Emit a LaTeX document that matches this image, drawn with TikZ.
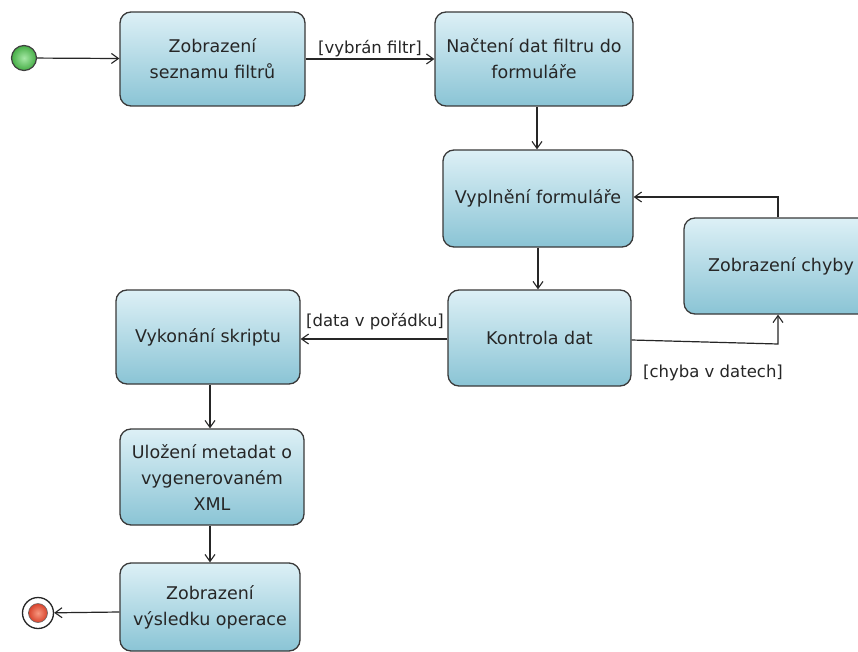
\documentclass[tikz,border=0pt]{standalone}
\usepackage{fontspec}
\setmainfont{DejaVu Sans}
\usetikzlibrary{arrows.meta}
\definecolor{boxtop}{HTML}{DDF0F6}
\definecolor{boxbot}{HTML}{8AC4D5}
\definecolor{boxline}{HTML}{3A3A3A}
\definecolor{startin}{HTML}{A6E8A6}
\definecolor{startout}{HTML}{45AD45}
\definecolor{endin}{HTML}{F79880}
\definecolor{endout}{HTML}{D8432C}
\tikzset{
  action/.style={draw=boxline, line width=1.3pt, rounded corners=11pt,
    top color=boxtop, bottom color=boxbot, align=center, inner sep=0pt,
    font=\fontsize{17.5}{26}\selectfont, text=black!85},
  flow/.style={draw=black!85, line width=1.2pt,
    -{Straight Barb[length=7pt,width=10pt,line width=1.1pt]}},
  guard/.style={font=\fontsize{16.5}{18}\selectfont, text=black!85, inner sep=1pt},
}
\begin{document}
\begin{tikzpicture}[x=1pt,y=-1pt]
  \useasboundingbox[fill=white] (0,0) rectangle (858,652);

  % initial and final states
  \node (start) [circle, draw=black!75, line width=1.2pt, inner sep=0pt,
    minimum size=25pt, inner color=startin, outer color=startout] at (24,58) {};
  \node (stop) [circle, draw=black!85, line width=1.3pt, fill=white, inner sep=0pt,
    minimum size=31pt] at (38,613) {};
  \node (stopin) [circle, draw=black!60, line width=0.6pt, inner sep=0pt,
    minimum size=19pt, inner color=endin, outer color=endout] at (38,613) {};

  % actions
  \node (list) [action, minimum width=185pt, minimum height=94pt] at (212.5,59)
    {Zobrazení\\seznamu filtrů};
  \node (load) [action, minimum width=198pt, minimum height=94pt] at (534,59)
    {Načtení dat filtru do\\formuláře};
  \node (fill) [action, minimum width=190pt, minimum height=97pt] at (538,198.5)
    {Vyplnění formuláře};
  \node (err) [action, minimum width=194pt, minimum height=96pt] at (781,266)
    {Zobrazení chyby};
  \node (check) [action, minimum width=183pt, minimum height=96pt] at (539.5,338)
    {Kontrola dat};
  \node (run) [action, minimum width=184pt, minimum height=94pt] at (208,337)
    {Vykonání skriptu};
  \node (save) [action, minimum width=184pt, minimum height=96pt] at (212,477)
    {Uložení metadat o\\vygenerovaném\\XML};
  \node (show) [action, minimum width=180pt, minimum height=88pt] at (210,607)
    {Zobrazení\\výsledku operace};

  % bends of the loop through the error state
  \coordinate (loopup) at (778,197);
  \coordinate (loopdn) at (778,344);

  % control flow
  \draw[flow] (start) -- (list);
  \draw[flow] (list) -- node[guard, above, pos=0.5] {[vybrán filtr]} (load);
  \draw[flow] (load.south -| 537,0) -- (fill.north -| 537,0);
  \draw[flow] (fill.south -| 538,0) -- (check.north -| 538,0);
  \draw[flow] (check.east |- 0,340) -- (loopdn) -- (err.south -| loopdn);
  \draw[flow] (err.north -| loopup) -- (loopup) -- (fill.east |- loopup);
  \draw[flow] (check.west |- 0,339) -- (run.east |- 0,339);
  \draw[flow] (run.south -| 210,0) -- (save.north -| 210,0);
  \draw[flow] (save.south -| 210,0) -- (show.north -| 210,0);
  \draw[flow] (show.west |- 0,612) -- (stop);

  % guard labels
  \node (guardok) [guard, anchor=center] at (375,322) {[data v pořádku]};
  \node (guarderr) [guard, anchor=center] at (713,373) {[chyba v datech]};
\end{tikzpicture}
\end{document}
